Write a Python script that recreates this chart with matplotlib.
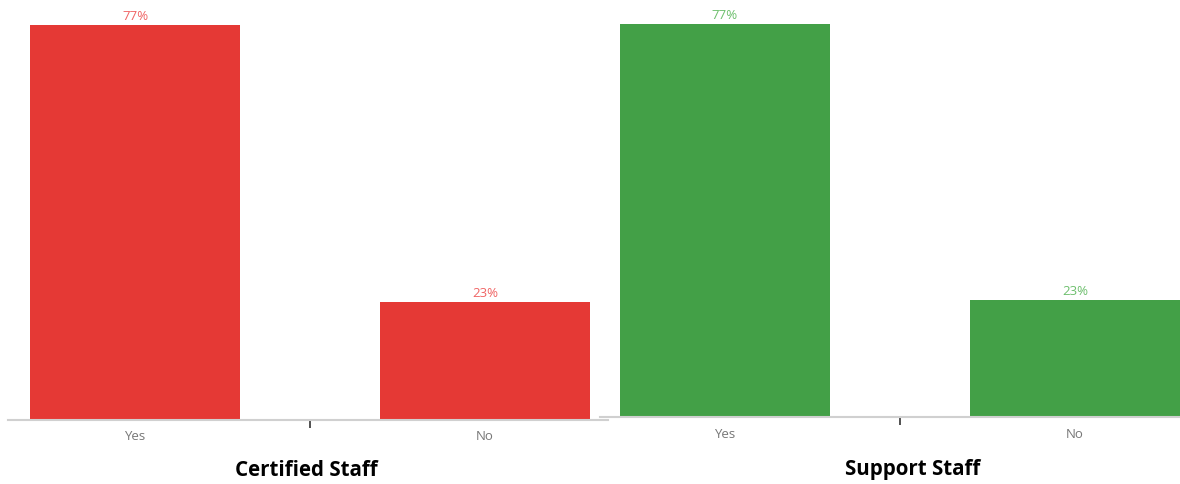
import matplotlib.pyplot as plt

categories = ['Yes', 'No']
certified = [77, 23]
support = [77, 23]
titles = ['Certified Staff', 'Support Staff']

W, H = 1180, 485


def box(x0, x1, ybase, ytop):
    return [x0 / W, (H - ybase) / H, (x1 - x0) / W, (ybase - ytop) / H]


def drawPanel(ax, values, color, labelColor, title, xlim, ylim, titleX, labelOff, titleOff):
    x = range(len(categories))
    bars = ax.bar(x, values, width=0.6, color=color)
    for b, v in zip(bars, values):
        ax.text(b.get_x() + b.get_width() / 2, v + 0.5, f'{v}%', ha='center', va='bottom',
                fontsize=9.5, color=labelColor, family='Open Sans')
    ax.set_xlim(*xlim)
    ax.set_ylim(*ylim)
    ax.set_xticks([0.5])
    ax.set_xticklabels([''])
    ax.tick_params(axis='x', length=6, width=1.2, color='#333333')
    for i, c in enumerate(categories):
        ax.annotate(c, (i, 0), xycoords=('data', 'axes fraction'), xytext=(0, -labelOff),
                    textcoords='offset points', ha='center', va='center', fontsize=9.5,
                    color='#777777', family='Open Sans', annotation_clip=False)
    ax.set_yticks([])
    for s in ['top', 'right', 'left']:
        ax.spines[s].set_visible(False)
    ax.spines['bottom'].set_color('#d0d0d0')
    ax.spines['bottom'].set_linewidth(1.5)
    ax.annotate(title, (titleX, 0), xycoords=('data', 'axes fraction'), xytext=(0, -titleOff),
                textcoords='offset points', ha='center', va='center', fontsize=14.8,
                fontweight='bold', family='Open Sans', color='black', annotation_clip=False)


fig = plt.figure(figsize=(11.8, 4.85), dpi=100)
ax1 = fig.add_axes(box(8, 608, 421, 10))
ax2 = fig.add_axes(box(600, 1180, 418, 8))
drawPanel(ax1, certified, '#e53935', '#f06464', titles[0], (-0.363, 1.351), (0, 80.1), 0.49, 11.5, 35.3)
drawPanel(ax2, support, '#43a047', '#6dbf6d', titles[1], (-0.357, 1.3), (0, 80.3), 0.537, 12.2, 37.4)
for a in (ax1, ax2):
    for t in a.texts:
        t.set_clip_on(False)

fig.savefig('out.png', dpi=100)
